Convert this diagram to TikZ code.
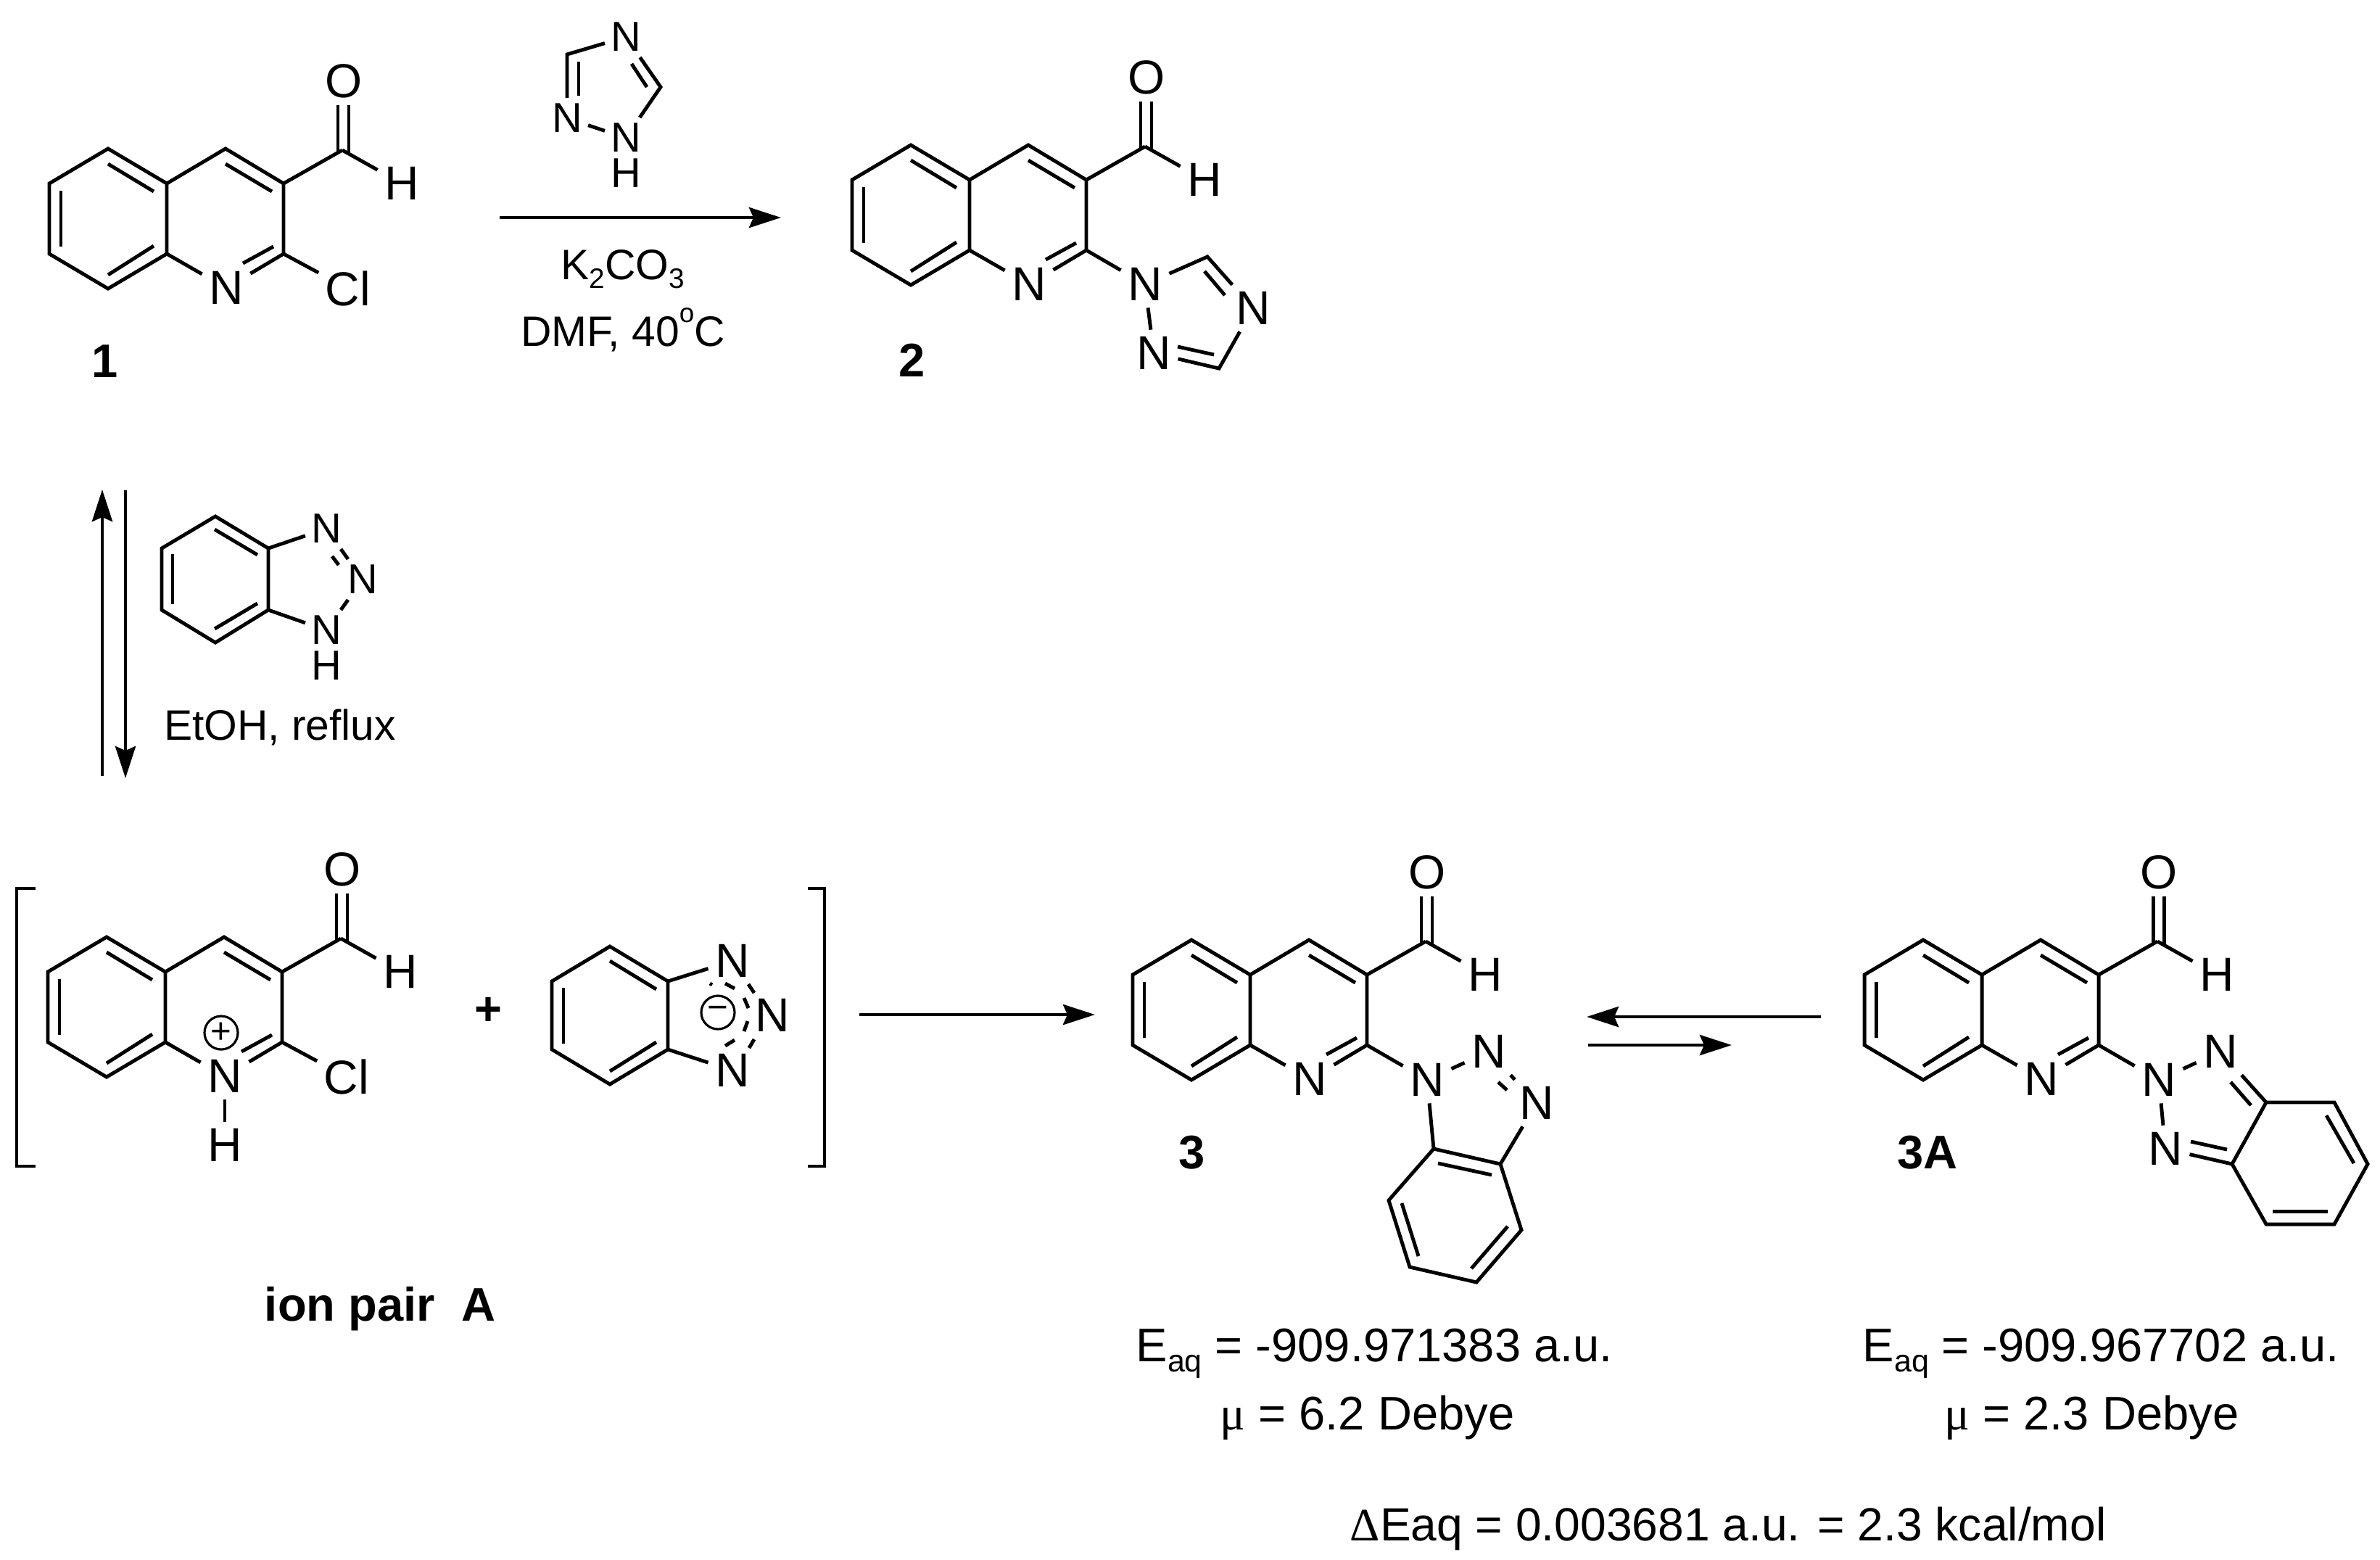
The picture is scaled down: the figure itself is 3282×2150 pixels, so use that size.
\documentclass[tikz,border=0pt]{standalone}
\usepackage{fontspec}
\setmainfont{Liberation Sans}
\newfontfamily\symbfont{Liberation Serif}
\usetikzlibrary{arrows.meta}
\newcommand{\subtxt}[1]{\raisebox{-0.22em}{\fontsize{0.66em}{1em}\selectfont #1}}
\tikzset{
	bond/.style={line width=1.4pt},
	rxn/.style={line width=1.4pt,-{Stealth[length=4.4mm,width=2.8mm,inset=0.6mm]}},
	atom/.style={font=\fontsize{18.7}{20}\selectfont,inner sep=0.09cm},
	atomsm/.style={font=\fontsize{16.4}{18}\selectfont,inner sep=0.075cm},
	cond/.style={font=\fontsize{16.7}{18}\selectfont,inner sep=0pt,anchor=base},
	info/.style={font=\fontsize{18.5}{20}\selectfont,inner sep=0pt,anchor=base west},
	molname/.style={font=\fontsize{18.5}{20}\selectfont\bfseries,inner sep=0pt,anchor=base},
	charge/.style={draw,circle,line width=0.9pt,minimum size=0.46cm,inner sep=0pt,font=\fontsize{14}{14}\selectfont},
	quinoline/.pic={
		\coordinate (-c8) at (149,398);
		\coordinate (-c7) at (68,350);
		\coordinate (-c6) at (68,253);
		\coordinate (-c5) at (149,205);
		\coordinate (-c4a) at (230,253);
		\coordinate (-c8a) at (230,350);
		\coordinate (-c4) at (311,205);
		\coordinate (-c3) at (391,253);
		\coordinate (-c2) at (391,350);
		\coordinate (-cho) at (472,207);
		\node[atom] (-N) at (312,397) {N};
		\node[atom] (-O) at (474,112) {O};
		\node[atom] (-H) at (554,253) {H};
		\draw[bond] (-c8a) -- (-c8) -- (-c7) -- (-c6) -- (-c5) -- (-c4a) -- cycle;
		\draw[bond] (-c4a) -- (-c4) -- (-c3) -- (-c2);
		\draw[bond] (-c3) -- (-cho);
		\draw[bond] (-c8a) -- (-N);
		\draw[bond] (-c2) -- (-N);
		\draw[bond] (-cho) -- (-H);
		\draw[bond] (149,226) -- (212,264);
		\draw[bond] (84,263) -- (84,340);
		\draw[bond] (149,379) -- (212,339);
		\draw[bond] (311,226) -- (375,264);
		\draw[bond] (335,363) -- (377,340);
		\draw[bond] (466,145) -- (466,210);
		\draw[bond] (481,145) -- (481,212);
	}
}
\begin{document}
\begin{tikzpicture}[x=0.01cm,y=-0.01cm]
			\useasboundingbox (0,0) rectangle (3282,2150);

			% starting aldehyde
			\pic (mOne) at (0,0) {quinoline};
			\node[atom] (mOneCl) at (480,398) {Cl};
			\draw[bond] (mOne-c2) -- (mOneCl);
			\node[molname] (nameOne) at (145,520) {1};

			% triazole over the arrow
			\node[atomsm] (tzA) at (863,51) {N};
			\node[atomsm] (tzB) at (782,163) {N};
			\node[atomsm] (tzC) at (863,190) {N};
			\node[atomsm,inner sep=0pt] (tzH) at (863,239) {H};
			\coordinate (tzD) at (782,75);
			\coordinate (tzE) at (911,120);
			\draw[bond] (tzA) -- (tzD) -- (tzB);
			\draw[bond] (tzB) -- (tzC);
			\draw[bond] (tzC) -- (tzE) -- (tzA);
			\draw[bond] (798,85) -- (798,132);
			\draw[bond] (892,120) -- (871,88);

			\coordinate (arrTopA) at (689,300);
			\coordinate (arrTopB) at (1077,300);
			\draw[rxn] (arrTopA) -- (arrTopB);
			\node[cond] (condK) at (859,385) {K\subtxt{2}CO\subtxt{3}};
			\node[cond] (condD) at (859,477) {DMF, 40\raisebox{0.55em}{\fontsize{10.5}{11}\selectfont o}C};

			% product 2
			\pic (mTwo) at (1107,-5) {quinoline};
			\node[atom] (twoA) at (1579,392) {N};
			\node[atom] (twoB) at (1728,425) {N};
			\node[atom] (twoC) at (1591,487) {N};
			\coordinate (twoD) at (1665,354);
			\coordinate (twoE) at (1681,508);
			\draw[bond] (mTwo-c2) -- (twoA);
			\draw[bond] (twoA) -- (twoD) -- (twoB);
			\draw[bond] (twoB) -- (twoE) -- (twoC);
			\draw[bond] (twoC) -- (twoA);
			\draw[bond] (1661,374) -- (1689,407);
			\draw[bond] (1674,489) -- (1624,478);
			\node[molname] (nameTwo) at (1258,519) {2};

			% left equilibrium
			\coordinate (arrUpA) at (141,1070);
			\coordinate (arrUpB) at (141,675);
			\coordinate (arrDnA) at (173,676);
			\coordinate (arrDnB) at (173,1073);
			\draw[rxn] (arrUpA) -- (arrUpB);
			\draw[rxn] (arrDnA) -- (arrDnB);

			\node[atomsm] (btA) at (450,729) {N};
			\node[atomsm] (btB) at (500,799) {N};
			\node[atomsm] (btC) at (450,869) {N};
			\node[atomsm,inner sep=0pt] (btH) at (450,918) {H};
			\coordinate (btD) at (370,756);
			\coordinate (btE) at (370,841);
			\draw[bond] (btD) -- (297,712) -- (223,756) -- (223,841) -- (297,886) -- (btE) -- cycle;
			\draw[bond] (btD) -- (btA);
			\draw[bond] (btE) -- (btC);
			\draw[bond] (btA) -- (btB);
			\draw[bond] (btB) -- (btC);
			\draw[bond] (296,730) -- (355,765);
			\draw[bond] (238,764) -- (238,833);
			\draw[bond] (296,867) -- (355,832);
			\draw[bond] (458,767) -- (467,779);
			\node[cond] (condE) at (386,1020) {EtOH, reflux};

			% ion pair
			\draw[line width=1.4pt] (49,1225) -- (23,1225) -- (23,1608) -- (49,1608);
			\draw[line width=1.4pt] (1114,1225) -- (1137,1225) -- (1137,1608) -- (1114,1608);
			\pic (mAion) at (-2,1087) {quinoline};
			\node[atom] (aionCl) at (478,1485) {Cl};
			\node[atom] (aionH) at (310,1579) {H};
			\draw[bond] (mAion-c2) -- (aionCl);
			\draw[bond] (mAion-N) -- (aionH);
			\node[charge] (aionPlus) at (305,1424) {+};
			\node[font=\fontsize{18.5}{20}\selectfont\bfseries,inner sep=0pt] (plusSign) at (673,1394) {+};

			\node[atom] (anA) at (1010,1325) {N};
			\node[atom] (anB) at (1065,1400) {N};
			\node[atom] (anC) at (1010,1476) {N};
			\coordinate (anD) at (921,1353);
			\coordinate (anE) at (921,1447);
			\draw[bond] (anD) -- (841,1305) -- (761,1353) -- (761,1447) -- (841,1495) -- (anE) -- cycle;
			\draw[bond] (anD) -- (anA);
			\draw[bond] (anE) -- (anC);
			\draw[bond] (841,1325) -- (905,1364);
			\draw[bond] (777,1362) -- (777,1439);
			\draw[bond] (841,1477) -- (905,1437);
			\draw[bond] (1032,1357) -- (1040,1369);
			\draw[bond] (1000,1356) -- (1013,1363);
			\draw[bond] (979,1356) -- (982,1358);
			\draw[bond] (1026,1376) -- (1032,1390);
			\draw[bond] (1031,1408) -- (1026,1422);
			\draw[bond] (1013,1434) -- (1000,1442);
			\draw[bond] (1040,1433) -- (1033,1445);
			\node[charge] (anMinus) at (990,1396) {\textminus};
			\node[molname] (nameIon) at (524,1821) {ion pair\ \ A};

			\coordinate (arrMidA) at (1185,1399);
			\coordinate (arrMidB) at (1510,1399);
			\draw[rxn] (arrMidA) -- (arrMidB);

			% product 3
			\pic (mThree) at (1494,1091) {quinoline};
			\node[atom] (thA) at (1968,1489) {N};
			\node[atom] (thB) at (2053,1450) {N};
			\node[atom] (thC) at (2119,1521) {N};
			\coordinate (thD) at (1977,1584);
			\coordinate (thE) at (2069,1605);
			\draw[bond] (mThree-c2) -- (thA);
			\draw[bond] (thA) -- (thB);
			\draw[bond] (thB) -- (thC);
			\draw[bond] (thC) -- (thE);
			\draw[bond] (thA) -- (thD);
			\draw[bond] (thD) -- (thE) -- (2098,1696) -- (2036,1768) -- (1944,1747) -- (1915,1655) -- cycle;
			\draw[bond] (2066,1492) -- (2078,1503);
			\draw[bond] (1983,1604) -- (2057,1620);
			\draw[bond] (2079,1691) -- (2029,1749);
			\draw[bond] (1956,1732) -- (1933,1659);
			\node[molname] (nameThree) at (1644,1611) {3};

			\coordinate (arrEqA) at (2511,1402);
			\coordinate (arrEqB) at (2188,1402);
			\coordinate (arrEqC) at (2190,1441);
			\coordinate (arrEqD) at (2388,1441);
			\draw[rxn] (arrEqA) -- (arrEqB);
			\draw[rxn] (arrEqC) -- (arrEqD);

			% product 3A
			\pic (mThreeA) at (2503,1091) {quinoline};
			\node[atom] (tfA) at (2977,1489) {N};
			\node[atom] (tfB) at (3062,1450) {N};
			\node[atom] (tfC) at (2986,1584) {N};
			\coordinate (tfD) at (3125,1520);
			\coordinate (tfE) at (3078,1605);
			\draw[bond] (mThreeA-c2) -- (tfA);
			\draw[bond] (tfA) -- (tfB);
			\draw[bond] (tfA) -- (tfC);
			\draw[bond] (tfB) -- (tfD);
			\draw[bond] (tfC) -- (tfE);
			\draw[bond] (tfD) -- (3219,1520) -- (3265,1605) -- (3219,1688) -- (3125,1688) -- (tfE) -- cycle;
			\draw[bond] (3021,1574) -- (3071,1585);
			\draw[bond] (3076,1492) -- (3104,1524);
			\draw[bond] (3208,1538) -- (3246,1604);
			\draw[bond] (3134,1670) -- (3210,1670);
			\node[molname] (nameThreeA) at (2658,1611) {3A};

			% energies
			\node[info] (enThree) at (1566,1877) {E\subtxt{aq} = -909.971383 a.u.};
			\node[info] (muThree) at (1682,1971) {{\symbfont μ} = 6.2 Debye};
			\node[info] (enThreeA) at (2568,1877) {E\subtxt{aq} = -909.967702 a.u.};
			\node[info] (muThreeA) at (2681,1971) {{\symbfont μ} = 2.3 Debye};
			\node[info,font=\fontsize{18.25}{20}\selectfont] (deltaE) at (1861,2124) {{\symbfont Δ}Eaq = 0.003681 a.u. = 2.3 kcal/mol};
		\end{tikzpicture}
\end{document}
